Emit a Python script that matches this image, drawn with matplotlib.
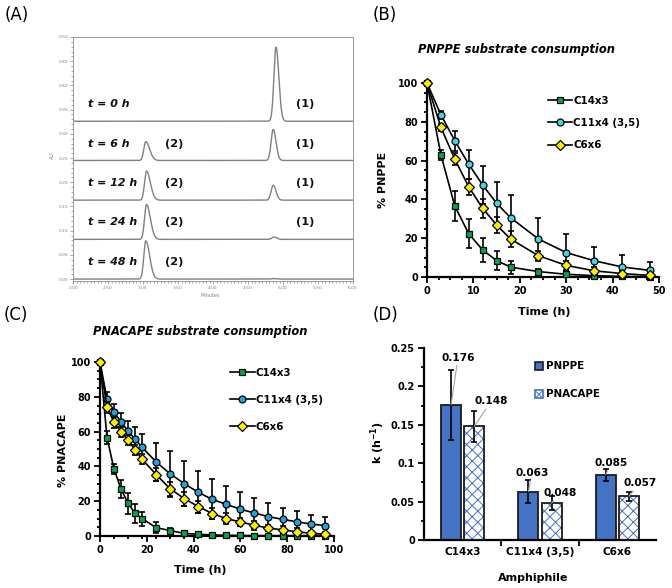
import numpy as np
import matplotlib
matplotlib.use("Agg")
import matplotlib.pyplot as plt
from matplotlib.ticker import MultipleLocator, FixedLocator
import matplotlib.patches as mpatches

plt.rcParams['font.family'] = ['DejaVu Sans']
plt.rcParams['hatch.linewidth'] = 0.7

# ---------------- DATA ----------------
# (A) chromatograms
hplc_labels = ["t = 0 h", "t = 6 h", "t = 12 h", "t = 24 h", "t = 48 h"]
hplc_baseline = [0.326, 0.245, 0.163, 0.082, 0.0]
peak1_rt = [4.90, 4.86, 4.86, 4.87, 4.87]
peak1_height = [0.153, 0.064, 0.031, 0.005, 0.001]
peak2_rt = [3.04, 3.04, 3.05, 3.05, 3.04]
peak2_height = [0.0, 0.039, 0.060, 0.072, 0.079]
peak1_tag = ["(1)", "(1)", "(1)", "(1)", ""]
peak2_tag = ["", "(2)", "(2)", "(2)", "(2)"]

# (B) PNPPE consumption
time_B = [0, 3, 6, 9, 12, 15, 18, 24, 30, 36, 42, 48]
B_C14x3 = [100, 63, 36.5, 22.3, 13.9, 8.5, 5.1, 2.8, 1.4, 0.7, 0.3, 0.2]
B_C14x3_err = [0, 2.5, 7.6, 7.6, 6.1, 4.9, 3.3, 1.2, 0.6, 0.3, 0.2, 0.1]
B_C11x4 = [100, 83.6, 70.2, 58.1, 47.4, 38.0, 30.6, 19.6, 12.6, 8.4, 5.2, 3.4]
B_C11x4_err = [0, 2.0, 5.0, 7.4, 10.0, 11.2, 11.8, 11.0, 9.5, 7.1, 6.0, 4.4]
B_C6x6 = [100, 77.1, 60.7, 46.4, 35.4, 26.8, 19.6, 11.0, 6.0, 3.2, 1.8, 0.8]
B_C6x6_err = [0, 2.0, 3.0, 4.0, 5.0, 4.2, 4.3, 2.5, 2.5, 2.0, 1.5, 1.2]

# (C) PNACAPE consumption
time_C = [0, 3, 6, 9, 12, 15, 18, 24, 30, 36, 42, 48, 54, 60, 66, 72, 78, 84, 90, 96]
C_C14x3 = [100, 56.6, 38.4, 27.0, 18.8, 13.0, 10.0, 4.8, 3.1, 1.5, 1.0, 0.6, 0.4,
           0.3, 0.2, 0.2, 0.2, 0.2, 0.2, 0.2]
C_C14x3_err = [0, 3.5, 3.0, 5.0, 6.0, 5.5, 4.0, 3.0, 1.5, 0.8, 0.6, 0.4, 0.3,
               0.2, 0.2, 0.2, 0.2, 0.2, 0.2, 0.2]
C_C11x4 = [100, 78.7, 71.0, 65.6, 60.3, 55.7, 50.9, 42.6, 35.7, 30.1, 25.1, 21.0,
           18.2, 15.4, 13.2, 11.1, 9.6, 8.2, 6.9, 6.0]
C_C11x4_err = [0, 4.0, 5.0, 5.0, 6.0, 7.0, 8.0, 11.0, 13.0, 13.0, 12.0, 11.5,
               10.3, 9.8, 8.5, 7.8, 6.5, 6.0, 5.3, 4.8]
C_C6x6 = [100, 73.9, 65.3, 59.9, 55.1, 49.5, 44.1, 35.3, 27.1, 21.5, 16.9, 12.9,
          10.0, 8.1, 6.1, 4.6, 3.5, 2.5, 1.6, 1.0]
C_C6x6_err = [0, 3.0, 3.0, 3.0, 3.0, 3.0, 3.0, 3.5, 4.0, 4.0, 3.5, 3.0, 3.0,
              2.5, 2.5, 2.0, 2.0, 2.0, 1.5, 1.5]

series_names = ["C14x3", "C11x4 (3,5)", "C6x6"]

# (D) rate constants
amphiphiles = ["C14x3", "C11x4 (3,5)", "C6x6"]
k_PNPPE = [0.176, 0.063, 0.085]
k_PNPPE_err = [0.046, 0.015, 0.008]
k_PNACAPE = [0.148, 0.048, 0.057]
k_PNACAPE_err = [0.020, 0.009, 0.006]

# ---------------- FIGURE ----------------
W, H = 672, 588
fig = plt.figure(figsize=(W / 100, H / 100), dpi=100)


def rect(l, t, r, b):
    return [l / W, 1 - b / H, (r - l) / W, (b - t) / H]


TICK_FS = 7
LAB_FS = 8
BOLD = 'bold'

# ---------- Panel A ----------
axA = fig.add_axes(rect(73, 37, 353, 281.5))
gray = '#808080'
x = np.linspace(2.0, 6.0, 3000)


def peak(xx, rt, sl, sr):
    s = np.where(xx < rt, sl, sr)
    return np.exp(-0.5 * ((xx - rt) / s) ** 2)


for i in range(len(hplc_labels)):
    y = (hplc_baseline[i]
         + peak1_height[i] * peak(x, peak1_rt[i], 0.030, 0.040)
         + peak2_height[i] * peak(x, peak2_rt[i], 0.028, 0.055))
    axA.plot(x, y, color=gray, lw=1.0)
    ty = hplc_baseline[i] + 0.035
    axA.text(2.21, ty, hplc_labels[i], fontsize=7.9, fontweight='heavy',
             fontstyle='italic', va='center', ha='left', color='#111111')
    if peak1_tag[i]:
        axA.text(5.31, ty, peak1_tag[i], fontsize=8.2, fontweight='bold',
                 va='center', ha='center', color='#111111')
    if peak2_tag[i]:
        axA.text(3.44, ty, peak2_tag[i], fontsize=8.2, fontweight='bold',
                 va='center', ha='center', color='#111111')

axA.set_xlim(2.0, 6.0)
axA.set_ylim(-0.005, 0.50)
axA.xaxis.set_major_locator(MultipleLocator(0.5))
axA.xaxis.set_minor_locator(MultipleLocator(0.05))
axA.yaxis.set_major_locator(MultipleLocator(0.05))
axA.yaxis.set_minor_locator(MultipleLocator(0.01))
axA.xaxis.set_major_formatter(matplotlib.ticker.FormatStrFormatter('%.2f'))
axA.yaxis.set_major_formatter(matplotlib.ticker.FormatStrFormatter('%.2f'))
axA.tick_params(which='both', labelsize=3.2, colors=gray, width=0.5, pad=1)
axA.tick_params(which='major', length=2.2)
axA.tick_params(which='minor', length=1.2)
for sp in axA.spines.values():
    sp.set_color('#999999')
    sp.set_linewidth(0.7)
axA.set_xlabel('Minutes', fontsize=3.5, color=gray, va='center')
axA.xaxis.set_label_coords(0.49, -0.057)
axA.set_ylabel('AU', fontsize=3.5, color=gray, va='center')
axA.yaxis.set_label_coords(-0.075, 0.516)


def style_kinetic(ax):
    for s in ['top', 'right']:
        ax.spines[s].set_visible(False)
    for s in ['left', 'bottom']:
        ax.spines[s].set_linewidth(1.6)
    ax.tick_params(which='both', direction='out', width=1.3, labelsize=TICK_FS)
    ax.tick_params(which='major', length=4.5, pad=2)
    ax.tick_params(which='minor', length=2.5)
    for lab in ax.get_xticklabels() + ax.get_yticklabels():
        lab.set_fontweight(BOLD)


def draw_kinetics(ax, t, data, errs, colors):
    markers = ['s', 'o', 'D']
    handles = []
    for j in range(3):
        ax.errorbar(t, data[j], yerr=errs[j], fmt='none', ecolor='k',
                    elinewidth=1.2, capsize=2.5, capthick=1.2, zorder=2 + j,
                    clip_on=False)
        ln, = ax.plot(t, data[j], '-', color='k', lw=1.2, marker=markers[j],
                      ms=5.0, mfc=colors[j], mec='k', mew=0.9,
                      zorder=3 + j, clip_on=False, label=series_names[j])
        handles.append(ln)
    return handles


# ---------- Panel B ----------
axB = fig.add_axes(rect(427, 83, 659, 277))
hB = draw_kinetics(axB, time_B, [B_C14x3, B_C11x4, B_C6x6],
                   [B_C14x3_err, B_C11x4_err, B_C6x6_err],
                   ['#00A651', '#40D4E4', '#FFF000'])
axB.set_xlim(0, 50)
axB.set_ylim(0, 100)
axB.xaxis.set_major_locator(MultipleLocator(10))
axB.xaxis.set_minor_locator(MultipleLocator(2.5))
axB.yaxis.set_major_locator(MultipleLocator(20))
axB.yaxis.set_minor_locator(MultipleLocator(5))
style_kinetic(axB)
axB.set_xlabel('Time (h)', fontsize=LAB_FS, fontweight=BOLD, va='center')
axB.xaxis.set_label_coords(0.504, -0.18)
axB.set_ylabel('% PNPPE', fontsize=LAB_FS, fontweight=BOLD, va='center')
axB.yaxis.set_label_coords(-0.19, 0.5)
axB.legend(handles=hB, loc='upper left', bbox_to_anchor=(0.52, 0.935),
           frameon=False, prop={'weight': 'bold', 'size': 7.4},
           handlelength=2.4, handletextpad=0.1, labelspacing=1.2,
           borderpad=0, borderaxespad=0)
fig.text(517 / W, 1 - 50 / H, 'PNPPE substrate consumption', fontsize=8.3,
         fontweight='bold', fontstyle='italic', ha='center', va='center')

# ---------- Panel C ----------
axC = fig.add_axes(rect(100, 362, 334, 536))
hC = draw_kinetics(axC, time_C, [C_C14x3, C_C11x4, C_C6x6],
                   [C_C14x3_err, C_C11x4_err, C_C6x6_err],
                   ['#00A651', '#1EA2D8', '#FFF000'])
axC.set_xlim(0, 100)
axC.set_ylim(0, 100)
axC.xaxis.set_major_locator(MultipleLocator(20))
axC.xaxis.set_minor_locator(MultipleLocator(6))
axC.yaxis.set_major_locator(MultipleLocator(20))
axC.yaxis.set_minor_locator(MultipleLocator(5))
style_kinetic(axC)
axC.set_xlabel('Time (h)', fontsize=LAB_FS, fontweight=BOLD, va='center')
axC.xaxis.set_label_coords(0.427, -0.195)
axC.set_ylabel('% PNACAPE', fontsize=LAB_FS, fontweight=BOLD, va='center')
axC.yaxis.set_label_coords(-0.158, 0.494)
axC.legend(handles=hC, loc='upper left', bbox_to_anchor=(0.555, 0.965),
           frameon=False, prop={'weight': 'bold', 'size': 7.4},
           handlelength=2.4, handletextpad=0.1, labelspacing=1.65,
           borderpad=0, borderaxespad=0)
fig.text(200 / W, 1 - 332 / H, 'PNACAPE substrate consumption', fontsize=8.3,
         fontweight='bold', fontstyle='italic', ha='center', va='center')

# ---------- Panel D ----------
axD = fig.add_axes(rect(424, 348, 656, 540))
xpos = np.arange(len(amphiphiles))
bw = 0.26
off = 0.15
blue = '#4472C4'
axD.bar(xpos - off, k_PNPPE, bw, color=blue, edgecolor='#1a1a1a',
        lw=1.3, label='PNPPE', zorder=2)
axD.bar(xpos + off, k_PNACAPE, bw, color='white', edgecolor=blue,
        hatch='xxx', lw=0, zorder=2)
axD.bar(xpos + off, k_PNACAPE, bw, color='none', edgecolor='#1a1a1a',
        lw=1.3, zorder=3)
axD.errorbar(xpos - off, k_PNPPE, yerr=k_PNPPE_err, fmt='none', ecolor='k',
             elinewidth=1.2, capsize=2.5, capthick=1.2, zorder=4)
axD.errorbar(xpos + off, k_PNACAPE, yerr=k_PNACAPE_err, fmt='none', ecolor='k',
             elinewidth=1.2, capsize=2.5, capthick=1.2, zorder=4)

lab_off_P = [(5, 34), (2.5, 13.4), (3.7, 8.4)]
lab_off_A = [(12, 18), (6, 7.2), (8, 9.4)]
for i in range(len(amphiphiles)):
    for xs, val, o in [(xpos[i] - off, k_PNPPE[i], lab_off_P[i]),
                       (xpos[i] + off, k_PNACAPE[i], lab_off_A[i])]:
        axD.annotate(f'{val:.3f}', xy=(xs, val), xytext=o,
                     textcoords='offset points', ha='center', va='center',
                     fontsize=7.6, fontweight='bold', zorder=6,
                     arrowprops=dict(arrowstyle='-', color='#a6a6a6', lw=0.8,
                                     shrinkA=0, shrinkB=0))

axD.set_xlim(-0.5, 2.5)
axD.set_ylim(0, 0.25)
axD.yaxis.set_major_locator(FixedLocator([0, 0.05, 0.1, 0.15, 0.2, 0.25]))
axD.set_yticklabels(['0', '0.05', '0.1', '0.15', '0.2', '0.25'])
axD.yaxis.set_minor_locator(MultipleLocator(0.025))
axD.set_xticks(xpos)
axD.set_xticklabels(amphiphiles)
axD.xaxis.set_minor_locator(FixedLocator([0.5, 1.5]))
style_kinetic(axD)
axD.tick_params(axis='x', which='major', length=0, pad=5)
axD.tick_params(axis='x', which='minor', length=4.5, width=1.3)
for lab in axD.get_xticklabels():
    lab.set_fontsize(7.6)
axD.set_xlabel('Amphiphile', fontsize=LAB_FS, fontweight=BOLD, va='center')
axD.xaxis.set_label_coords(0.47, -0.198)
axD.set_ylabel('k (h$^{\\mathregular{-1}}$)', fontsize=LAB_FS, fontweight=BOLD,
               va='center')
axD.yaxis.set_label_coords(-0.198, 0.505)
legD_h = [mpatches.Patch(facecolor=blue, edgecolor='#1a1a1a', lw=1.2),
          mpatches.Patch(facecolor='white', edgecolor=blue, hatch='xxx', lw=1.2)]
axD.legend(legD_h, ['PNPPE', 'PNACAPE'], loc='upper left',
           bbox_to_anchor=(0.48, 0.93), frameon=False,
           prop={'weight': 'bold', 'size': 7.4}, handlelength=0.75,
           handleheight=0.75, handletextpad=0.25, labelspacing=1.75,
           borderpad=0, borderaxespad=0)

# panel letters
for lbl, px, py in [('(A)', 17, 15), ('(B)', 385, 15), ('(C)', 16, 315),
                    ('(D)', 385, 315)]:
    fig.text(px / W, 1 - py / H, lbl, fontsize=12, ha='center', va='center')

fig.savefig('out.png', dpi=100)
